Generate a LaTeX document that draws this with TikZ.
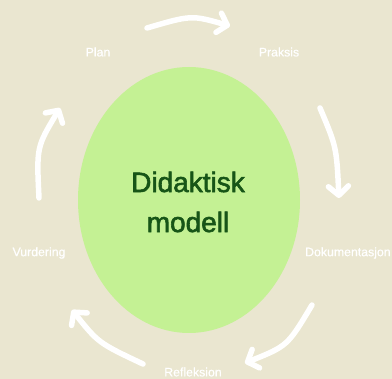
\documentclass[tikz,border=0pt]{standalone}
\usepackage{fontspec}
\setmainfont{Liberation Sans}
\newfontfamily\titlef{Liberation Sans}[FakeBold=2]
\newfontfamily\labelf{Liberation Sans}[FakeBold=0.8]
\usetikzlibrary{shapes.geometric,arrows.meta}
\definecolor{bg}{HTML}{EAE6D0}
\definecolor{blob}{HTML}{C4F194}
\definecolor{darkgreen}{HTML}{175517}
\tikzset{
  lbl/.style={text=white,font=\labelf\fontsize{12.3}{14}\selectfont,inner sep=0pt,anchor=center},
  cyc/.style={draw=white,line width=5.5pt,line cap=round,-{Straight Barb[length=9pt,width=20pt,round]}},
}
\begin{document}
\begin{tikzpicture}[x=1pt,y=-1pt]
\fill[bg] (0,0) rectangle (392,379);
\useasboundingbox (0,0) rectangle (392,379);
\node[ellipse,fill=blob,minimum width=222pt,minimum height=266pt,inner sep=0pt] (core) at (189,200) {};
\node[text=darkgreen,font=\titlef\fontsize{28}{40}\selectfont,align=center] (title) at (188,202) {Didaktisk\\modell};
\node[lbl] (plan) at (98,52) {Plan};
\node[lbl] (praksis) at (279,52) {Praksis};
\node[lbl,anchor=west] (dok) at (305,253) {Dokumentasjon};
\node[lbl] (vurd) at (39,253) {Vurdering};
\node[lbl] (refl) at (193,372) {Refleksion};
\coordinate (a1s) at (147,28); \coordinate (a1e) at (230,26);
\coordinate (a2s) at (320,108); \coordinate (a2e) at (339,198);
\coordinate (a3s) at (312,305); \coordinate (a3e) at (245,363);
\coordinate (a4s) at (143,364); \coordinate (a4e) at (72,310);
\coordinate (a5s) at (39,198); \coordinate (a5e) at (60,108);
\draw[cyc] (a1s) .. controls (191.5,15) .. (a1e);
\draw[cyc] (a2s) .. controls (336.5,147) .. (a2e);
\draw[cyc] (a3s) .. controls (287.5,346) .. (a3e);
\draw[cyc] (a4s) .. controls (98.5,343) .. (a4e);
\draw[cyc] (a5s) .. controls (36.5,147) .. (a5e);
\end{tikzpicture}
\end{document}
